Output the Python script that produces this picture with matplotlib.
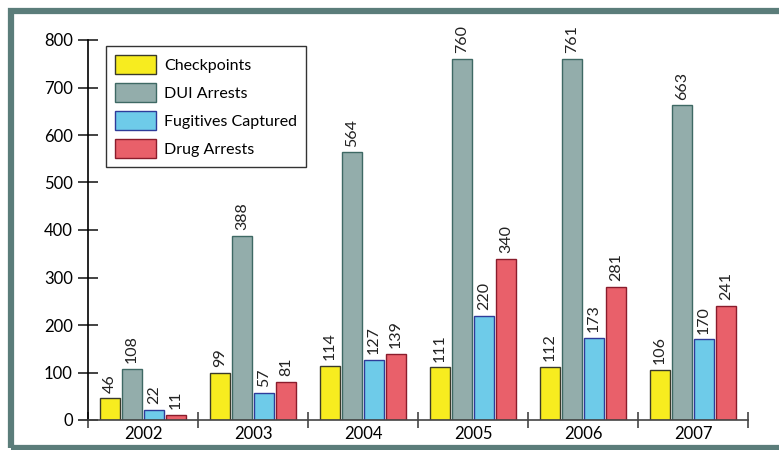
import matplotlib
matplotlib.use("Agg")
import matplotlib.pyplot as plt
import numpy as np
from matplotlib.patches import Rectangle

years = ["2002", "2003", "2004", "2005", "2006", "2007"]
series_names = ["Checkpoints", "DUI Arrests", "Fugitives Captured", "Drug Arrests"]
checkpoints = [46, 99, 114, 111, 112, 106]
dui_arrests = [108, 388, 564, 760, 761, 663]
fugitives = [22, 57, 127, 220, 173, 170]
drug_arrests = [11, 81, 139, 340, 281, 241]
y_ticks = [0, 100, 200, 300, 400, 500, 600, 700, 800]

face_colors = ["#F7EC1F", "#93ADAB", "#6ECBE9", "#E9606A"]
edge_colors = ["#3A3A2A", "#3E6964", "#2E3C9A", "#8A1C2C"]

plt.rcParams['font.family'] = ['Lato', 'DejaVu Sans']
fig = plt.figure(figsize=(7.79, 4.5), dpi=100)
W, H = 779, 450
ax = fig.add_axes([88 / W, 1 - 420 / H, 660 / W, 380 / H])

data = [checkpoints, dui_arrests, fugitives, drug_arrests]
x = np.arange(len(years))
bw = 0.18
step = 0.2
for i, (vals, fc, ec, name) in enumerate(zip(data, face_colors, edge_colors, series_names)):
    pos = x + (i - 1.5) * step
    bars = ax.bar(pos, vals, width=bw, color=fc, edgecolor=ec, linewidth=1.0, label=name)
    for p, v in zip(pos, vals):
        ax.annotate(str(v), (p, v), xytext=(0, 4), textcoords="offset points",
                    rotation=90, ha="center", va="bottom", fontsize=11.5, color="#222222")

ax.set_xlim(-0.5, len(years) - 0.5)
ax.set_ylim(0, 800)
ax.set_yticks(y_ticks)
ax.set_yticklabels([str(t) for t in y_ticks], fontsize=12)
ax.tick_params(axis="y", direction="inout", length=14, width=1.2, color="#222222", pad=4)
ax.set_xticks(x)
ax.set_xticklabels(years, fontsize=12)
ax.tick_params(axis="x", length=0, pad=4)
ax.set_xticks(np.arange(-0.5, len(years)), minor=True)
ax.tick_params(axis="x", which="minor", direction="inout", length=12, width=1.2, color="#444444")
for s in ["top", "right"]:
    ax.spines[s].set_visible(False)
ax.spines["left"].set_linewidth(1.2)
ax.spines["bottom"].set_linewidth(1.2)
ax.spines["bottom"].set_color("#444444")

leg = ax.legend(loc="upper left", bbox_to_anchor=(18 / 660, 1 - 6 / 380), fontsize=11.5,
                fancybox=False, frameon=True, edgecolor="#333333", framealpha=1,
                handlelength=2.6, handleheight=1.45, labelspacing=0.58, borderpad=0.55,
                handletextpad=0.5, borderaxespad=0)
leg.get_frame().set_linewidth(1.0)

frame = Rectangle((10.5 / W, 1 - 447.5 / H), (782 - 10.5) / W, (447.5 - 10.5) / H,
                  transform=fig.transFigure, fill=False, edgecolor="#5B7D7A", linewidth=4.5,
                  clip_on=False)
fig.patches.append(frame)

fig.savefig("out.png", dpi=100)
